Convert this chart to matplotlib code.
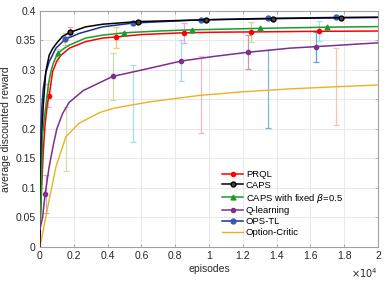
import numpy as np
import matplotlib
matplotlib.use('Agg')
from matplotlib import pyplot as plt

plt.rcParams['font.family'] = ['Liberation Sans', 'DejaVu Sans']
plt.rcParams['mathtext.fontset'] = 'dejavusans'

# curves, x in units of 1e4 episodes
prql_x = [0, 0.01, 0.02, 0.03, 0.045, 0.055, 0.075, 0.1, 0.125, 0.175, 0.27, 0.37, 0.45, 0.6, 0.85, 1.05, 1.25, 1.65, 2.0]
prql_y = [0.03, 0.10, 0.16, 0.205, 0.245, 0.256, 0.297, 0.315, 0.325, 0.337, 0.348, 0.354, 0.356, 0.360, 0.363, 0.364, 0.3645, 0.3655, 0.366]
prql_mk = [5, 12, 14, 16, 17]

caps_x = [0, 0.005, 0.01, 0.02, 0.035, 0.055, 0.075, 0.095, 0.134, 0.18, 0.27, 0.37, 0.58, 0.98, 1.38, 1.78, 2.0]
caps_y = [0.0, 0.10, 0.18, 0.24, 0.297, 0.325, 0.336, 0.344, 0.357, 0.364, 0.373, 0.3775, 0.382, 0.385, 0.387, 0.3885, 0.389]
caps_mk = [9, 12, 13, 14, 15]

fix_x = [0, 0.008, 0.016, 0.025, 0.036, 0.05, 0.065, 0.08, 0.105, 0.14, 0.173, 0.27, 0.37, 0.5, 0.7, 0.9, 1.3, 1.7, 2.0]
fix_y = [0.03, 0.09, 0.19, 0.215, 0.24, 0.275, 0.297, 0.312, 0.328, 0.336, 0.342, 0.354, 0.359, 0.363, 0.366, 0.368, 0.3705, 0.3725, 0.3735]
fix_mk = [8, 13, 15, 16, 17]

ql_x = [0, 0.016, 0.031, 0.055, 0.079, 0.1, 0.134, 0.173, 0.256, 0.43, 0.65, 0.833, 1.03, 1.23, 1.48, 1.63, 2.0]
ql_y = [0.03, 0.05, 0.09, 0.136, 0.172, 0.2, 0.226, 0.245, 0.265, 0.289, 0.303, 0.315, 0.323, 0.33, 0.337, 0.3395, 0.346]
ql_mk = [2, 9, 11, 13, 15]

ops_x = [0, 0.003, 0.006, 0.012, 0.02, 0.035, 0.055, 0.095, 0.15, 0.233, 0.37, 0.55, 0.95, 1.35, 1.75, 2.0]
ops_y = [0.02, 0.12, 0.2, 0.24, 0.269, 0.295, 0.314, 0.337, 0.352, 0.362, 0.373, 0.3795, 0.385, 0.3875, 0.389, 0.3895]
ops_mk = [8, 11, 12, 13, 14]

oc_x = [0, 0.016, 0.055, 0.095, 0.154, 0.233, 0.355, 0.434, 0.65, 0.947, 1.2, 1.48, 1.75, 2.0]
oc_y = [0.0, 0.023, 0.08, 0.136, 0.187, 0.21, 0.228, 0.235, 0.246, 0.257, 0.263, 0.268, 0.2715, 0.2746]

# error bars
eb_x = [0.035, 0.05, 0.1, 0.15, 0.154, 0.18, 0.43, 0.45, 0.552, 0.832, 0.852, 0.95, 1.23, 1.248, 1.35, 1.63, 1.65, 1.75]
eb_lo = [0.057, 0.237, 0.315, 0.342, 0.128, 0.358, 0.249, 0.338, 0.178, 0.281, 0.345, 0.194, 0.301, 0.347, 0.201, 0.314, 0.349, 0.207]
eb_hi = [0.122, 0.277, 0.335, 0.362, 0.237, 0.372, 0.329, 0.372, 0.308, 0.350, 0.379, 0.324, 0.359, 0.381, 0.334, 0.365, 0.383, 0.338]
eb_col = ['#c9a6d6', '#f0a8b8', '#c8dca8', '#f5c870', '#d0e0a8', '#e8a8b8', '#c8dca8', '#f5c870', '#a8dcf2',
          '#a8d8f0', '#d4b4dc', '#ebbac8', '#d890a8', '#bcdc98', '#7ab4e0', '#5aa4d8', '#a4e0f8', '#f8c4ac']

xtick_vals = [0, 0.2, 0.4, 0.6, 0.8, 1, 1.2, 1.4, 1.6, 1.8, 2]
xtick_labels = ['0', '0.2', '0.4', '0.6', '0.8', '1', '1.2', '1.4', '1.6', '1.8', '2']
ytick_vals = [0, 0.05, 0.1, 0.15, 0.2, 0.25, 0.3, 0.35, 0.4]
ytick_labels = ['0', '0.05', '0.1', '0.15', '0.2', '0.25', '0.3', '0.35', '0.4']

def ep(v):
    return np.array(v) * 1e4

fig = plt.figure(figsize=(3.91, 2.81), dpi=100)
ax = fig.add_axes([0.102, 0.121, 0.865, 0.84])

for x, lo, hi, c in zip(eb_x, eb_lo, eb_hi, eb_col):
    mid = (lo + hi) / 2
    ax.errorbar([x * 1e4], [mid], yerr=[[mid - lo], [hi - mid]], fmt='none', ecolor=c,
                elinewidth=0.9, capsize=2.2, capthick=0.9, zorder=2)

ax.plot(ep(prql_x), prql_y, color='#ff0000', lw=1.1, marker='o', ms=3, markevery=prql_mk, label='PRQL', zorder=4)
ax.plot(ep(caps_x), caps_y, color='#000000', lw=1.1, marker='o', ms=3.5, mfc='#444444', markevery=caps_mk, label='CAPS', zorder=4)
ax.plot(ep(fix_x), fix_y, color='#1e9a2e', lw=1.1, marker='^', ms=3.5, markevery=fix_mk, label=r'CAPS with fixed $\beta$=0.5', zorder=4)
ax.plot(ep(ql_x), ql_y, color='#7e2f8e', lw=1.1, marker='o', ms=3, markevery=ql_mk, label='Q-learning', zorder=4)
ax.plot(ep(ops_x), ops_y, color='#1f2f90', lw=1.1, marker='o', ms=3.5, mfc='#5a4a9a', mec='#2060c0', markevery=ops_mk, label='OPS-TL', zorder=3)
ax.plot(ep(oc_x), oc_y, color='#edb120', lw=1.0, label='Option-Critic', zorder=3)

ax.set_xlim(0, 20000)
ax.set_ylim(0, 0.4)
ax.set_xticks(ep(xtick_vals))
ax.set_xticklabels(xtick_labels)
ax.set_yticks(ytick_vals)
ax.set_yticklabels(ytick_labels)
ax.tick_params(direction='in', top=True, right=True, length=2.5, width=0.6, labelsize=7.5,
               color='#a0a0a0', labelcolor='#262626', pad=3)
ax.grid(True, color='#e4e4e4', lw=0.6)
ax.set_axisbelow(True)
for s in ax.spines.values():
    s.set_color('#a0a0a0')
    s.set_linewidth(0.8)

ax.set_xlabel('episodes', fontsize=7.5, color='#262626', labelpad=2)
ax.set_ylabel('average discounted reward', fontsize=7.5, color='#262626', labelpad=3)
ax.text(1.0, -0.083, r'$\times10^4$', transform=ax.transAxes, ha='right', va='top', fontsize=7, color='#262626')

ax.legend(loc='upper left', bbox_to_anchor=(0.52, 0.355), fontsize=6.8, frameon=False,
          handlelength=2.2, handletextpad=0.3, labelspacing=0.2, borderpad=0.2)

fig.savefig('out.png', dpi=100)
